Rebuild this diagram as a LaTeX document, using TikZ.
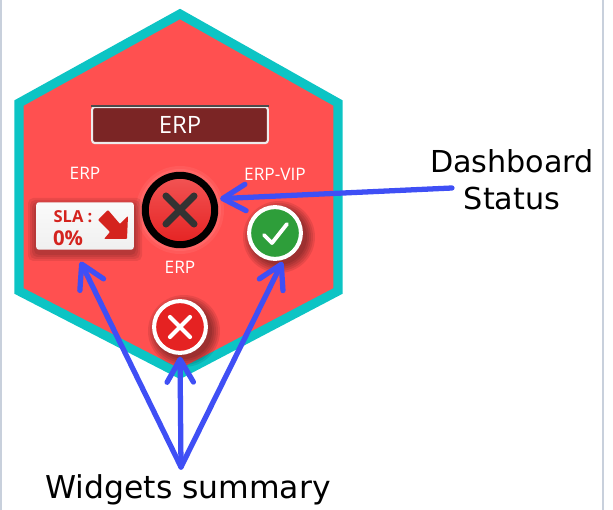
\documentclass[tikz,border=0pt]{standalone}
\usepackage{fontspec}
\setmainfont{DejaVu Sans}
\newfontfamily\uifont{Open Sans}
\usepackage{xcolor}
\usetikzlibrary{arrows.meta}
\definecolor{hexred}{HTML}{FF5050}
\definecolor{hexteal}{HTML}{0CC4C4}
\definecolor{darkbar}{HTML}{7B2525}
\definecolor{callblue}{HTML}{3F4FF5}
\definecolor{slared}{HTML}{D4231E}
\definecolor{okgreen}{HTML}{2E9E3A}
\definecolor{failred}{HTML}{E52222}
\definecolor{frameline}{HTML}{C8D0DC}
\tikzset{
  small/.style={text=white,font=\uifont\fontsize{9.8}{11}\selectfont},
  callout/.style={line width=3pt,callblue,line cap=round,
    -{Straight Barb[length=13pt,width=15pt,round]}},
  badge/.style={circle,draw=white,line width=2.3pt,minimum size=29.5pt,inner sep=0pt}
}
\begin{document}
\begin{tikzpicture}[x=0.02cm,y=-0.02cm]
    \useasboundingbox (0,0) rectangle (613,510);
    \draw[frameline,line width=1.2pt] (1,0) -- (1,510);
    \draw[frameline,line width=0.8pt] (603,0) -- (603,510);
    % hexagon
    \draw[hexteal,fill=hexred,line width=5.2pt,line join=miter]
      (180,14) -- (338,103) -- (338,291) -- (180,374)
      -- (19,291) -- (19,103) -- cycle;
    % soft shadows and glow
    \foreach \r/\o in {44/.06,41/.08,38/.12}
      \fill[white,opacity=\o] (180,210) circle (\r);
    \foreach \r in {36,34,32,30,28}{
      \fill[black,opacity=.09] (279,237) circle (\r);
      \fill[black,opacity=.09] (184,331) circle (\r);
    }
    \foreach \d in {8,6,4,2}
      \fill[black,opacity=.08,rounded corners=3pt]
        (36-\d,206-\d) rectangle (134+\d,253+\d);
    % title
    \node[draw=white!85!gray,line width=1.2pt,fill=darkbar,rounded corners=1.5pt,
      minimum width=100pt,minimum height=20.5pt,inner sep=0pt,text=white,
      font=\uifont\fontsize{13.6}{15}\selectfont] (title) at (180,125) {ERP};
    \draw[black!70,line width=1.2pt] (title.north west) -- (title.north east);
    % labels
    \node[small] (erpleft) at (85,173) {ERP};
    \node[small] (erpvip) at (275,174) {ERP-VIP};
    \node[small] (erpmid) at (180,267) {ERP};
    % status
    \node[circle,draw=black,line width=4pt,minimum size=39.5pt,inner sep=0pt,
      top color=hexred!90!gray,bottom color=failred] (status) at (180,210) {};
    \draw[black!80,line width=4pt,line cap=round]
      (166,196) -- (194,224) (194,196) -- (166,224);
    % sla
    \node[rounded corners=1.5pt,top color=white!96!gray,bottom color=white!88!gray,
      minimum width=55.5pt,minimum height=27pt,inner sep=0pt] (sla) at (85,226) {};
    \node[text=slared,font=\uifont\bfseries\fontsize{9.4}{10}\selectfont,inner sep=0pt] (slatext) at (73,217) {SLA :};
    \node[text=slared,font=\uifont\bfseries\fontsize{11.6}{12}\selectfont,inner sep=0pt] (slavalue) at (68,238) {0\%};
    \fill[slared,rounded corners=0.5pt] (108,210) -- (98,220) -- (110,232) -- (104,239)
      -- (127,239) -- (128,216) -- (120,224) -- cycle;
    % badges
    \node[badge,fill=okgreen] (okay) at (275,233) {};
    \draw[white,line width=2.2pt,line cap=round,line join=round]
      (264,235) -- (272,243) -- (287,224);
    \node[badge,fill=failred] (fail) at (180,327) {};
    \draw[white,line width=2.4pt,line cap=round]
      (170,317) -- (190,337) (190,317) -- (170,337);
    % callouts
    \node[font=\fontsize{17.2}{21}\selectfont,align=center,inner sep=0pt] (dash) at (512,180)
      {Dashboard\\Status};
    \node[font=\fontsize{17.9}{21}\selectfont,inner sep=0pt] (widgets) at (188,490) {Widgets summary};
    \coordinate (dashtail) at (452,188);
    \coordinate (widgetstail) at (181,467);
    \draw[callout,shorten >=2pt] (dashtail) -- (status.17);
    \draw[callout,shorten >=7.4pt] (widgetstail) -- (sla.-113);
    \draw[callout,shorten >=1pt] (widgetstail) -- (fail.south);
    \draw[callout,shorten >=1.5pt] (widgetstail) -- (okay.-72);
  \end{tikzpicture}
\end{document}
